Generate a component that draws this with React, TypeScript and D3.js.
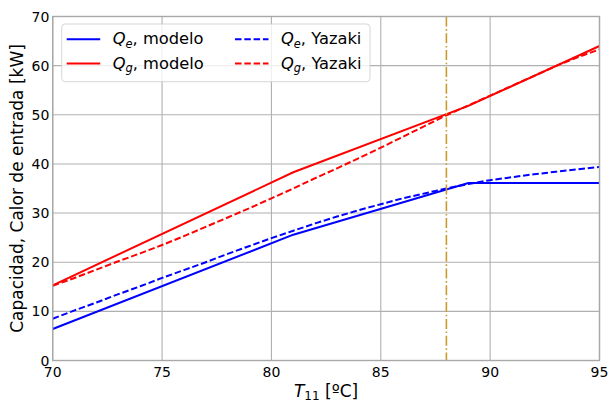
import React from "react";
import * as d3 from "d3";

// Model curves (breakpoints of the piecewise-linear model)
const tempModelo = [70, 81, 89, 95];
const qeModelo = [6.4, 25.6, 36.1, 36.1];
const qgModelo = [15.3, 38.3, 51.8, 64.0];

// Manufacturer (Yazaki) curves, one value per degree
const tempYazaki = [70, 71, 72, 73, 74, 75, 76, 77, 78, 79, 80, 81, 82, 83, 84, 85, 86, 87, 88, 89, 90, 91, 92, 93, 94, 95];
const qeYazaki = [8.5, 10.2, 11.8, 13.5, 15.1, 16.8, 18.4, 20.0, 21.7, 23.3, 24.9, 26.4, 27.9, 29.3, 30.6, 31.8, 33.0, 34.0, 35.0, 35.9, 36.7, 37.3, 37.9, 38.4, 38.9, 39.4];
const qgYazaki = [15.2, 16.8, 18.5, 20.2, 21.8, 23.5, 25.3, 27.2, 29.1, 31.0, 33.0, 35.0, 37.1, 39.1, 41.2, 43.3, 45.5, 47.7, 49.9, 51.9, 53.9, 55.9, 57.9, 59.9, 61.7, 63.3];

const xTicks = [70, 75, 80, 85, 90, 95];
const yTicks = [0, 10, 20, 30, 40, 50, 60, 70];
const designTemp = 88;

const W = 608;
const H = 405;
const left = 52.7;
const right = 599.5;
const top = 16.5;
const bottom = 360.5;

const FONT = "DejaVu Sans, sans-serif";
const BLUE = "#0000ff";
const RED = "#ff0000";
const GRID = "#b0b0b0";
const DASH = "6.5,2.8";

export default function App() {
  const x = d3.scaleLinear().domain([70, 95]).range([left, right]);
  const y = d3.scaleLinear().domain([0, 70]).range([bottom, top]);

  const mk = (xs: number[], ys: number[]) =>
    d3
      .line<number>()
      .x((_, i) => x(xs[i]))
      .y((v) => y(v))(ys) as string;

  const series = [
    { d: mk(tempModelo, qeModelo), color: BLUE, dash: undefined },
    { d: mk(tempModelo, qgModelo), color: RED, dash: undefined },
    { d: mk(tempYazaki, qeYazaki), color: BLUE, dash: DASH },
    { d: mk(tempYazaki, qgYazaki), color: RED, dash: DASH },
  ];

  const legendItems = [
    { sub: "e", name: "modelo", color: BLUE, dash: undefined, col: 0, row: 0 },
    { sub: "g", name: "modelo", color: RED, dash: undefined, col: 0, row: 1 },
    { sub: "e", name: "Yazaki", color: BLUE, dash: DASH, col: 1, row: 0 },
    { sub: "g", name: "Yazaki", color: RED, dash: DASH, col: 1, row: 1 },
  ];
  const colX = [66.7, 235];
  const rowY = [39.2, 63.6];

  return (
    <svg width={W} height={H} style={{ position: "absolute", left: 0, top: 0 }} fontFamily={FONT}>
      <rect x={0} y={0} width={W} height={H} fill="#ffffff" />
      {/* grid */}
      <g stroke={GRID} strokeWidth={1.1}>
        {xTicks.map((t) => (
          <line key={"gx" + t} x1={x(t)} x2={x(t)} y1={top} y2={bottom} />
        ))}
        {yTicks.map((t) => (
          <line key={"gy" + t} x1={left} x2={right} y1={y(t)} y2={y(t)} />
        ))}
      </g>
      {/* curves */}
      <g fill="none" strokeWidth={2}>
        {series.map((s, i) => (
          <path key={i} d={s.d} stroke={s.color} strokeDasharray={s.dash} />
        ))}
      </g>
      {/* design temperature marker */}
      <line
        x1={x(designTemp)}
        x2={x(designTemp)}
        y1={top}
        y2={bottom}
        stroke="#c99a2e"
        strokeWidth={1.6}
        strokeDasharray="10,2.6,1.6,2.6"
      />
      {/* frame */}
      <rect x={left} y={top} width={right - left} height={bottom - top} fill="none" stroke="#a8a8a8" strokeWidth={1.4} />
      {/* tick labels */}
      <g fontSize={14} fill="#000">
        {xTicks.map((t) => (
          <text key={"tx" + t} x={x(t)} y={377} textAnchor="middle">
            {t}
          </text>
        ))}
        {yTicks.map((t) => (
          <text key={"ty" + t} x={49.3} y={y(t) + 5.1} textAnchor="end">
            {t}
          </text>
        ))}
      </g>
      {/* axis labels */}
      <text x={(left + right) / 2} y={396.5} fontSize={17} textAnchor="middle" fill="#000">
        <tspan fontStyle="italic">T</tspan>
        <tspan fontSize={12} dy={3.5}>11</tspan>
        <tspan dy={-3.5}> [ºC]</tspan>
      </text>
      <text
        transform={`translate(22.7,${(top + bottom) / 2}) rotate(-90)`}
        fontSize={17}
        textAnchor="middle"
        fill="#000"
      >
        Capacidad, Calor de entrada [kW]
      </text>
      {/* legend */}
      <rect
        x={61.7}
        y={24}
        width={308.3}
        height={57.7}
        rx={3.5}
        fill="#ffffff"
        fillOpacity={0.8}
        stroke="#cccccc"
        strokeOpacity={0.8}
        strokeWidth={1}
      />
      {legendItems.map((it, i) => (
        <g key={i}>
          <line
            x1={colX[it.col]}
            x2={colX[it.col] + 33.5}
            y1={rowY[it.row]}
            y2={rowY[it.row]}
            stroke={it.color}
            strokeWidth={2}
            strokeDasharray={it.dash}
          />
          <text x={colX[it.col] + 46} y={rowY[it.row] + 5.2} fontSize={16.3} fill="#000">
            <tspan fontStyle="italic">Q</tspan>
            <tspan fontStyle="italic" fontSize={11.4} dy={3.4}>{it.sub}</tspan>
            <tspan dy={-3.4}>, {it.name}</tspan>
          </text>
        </g>
      ))}
    </svg>
  );
}
